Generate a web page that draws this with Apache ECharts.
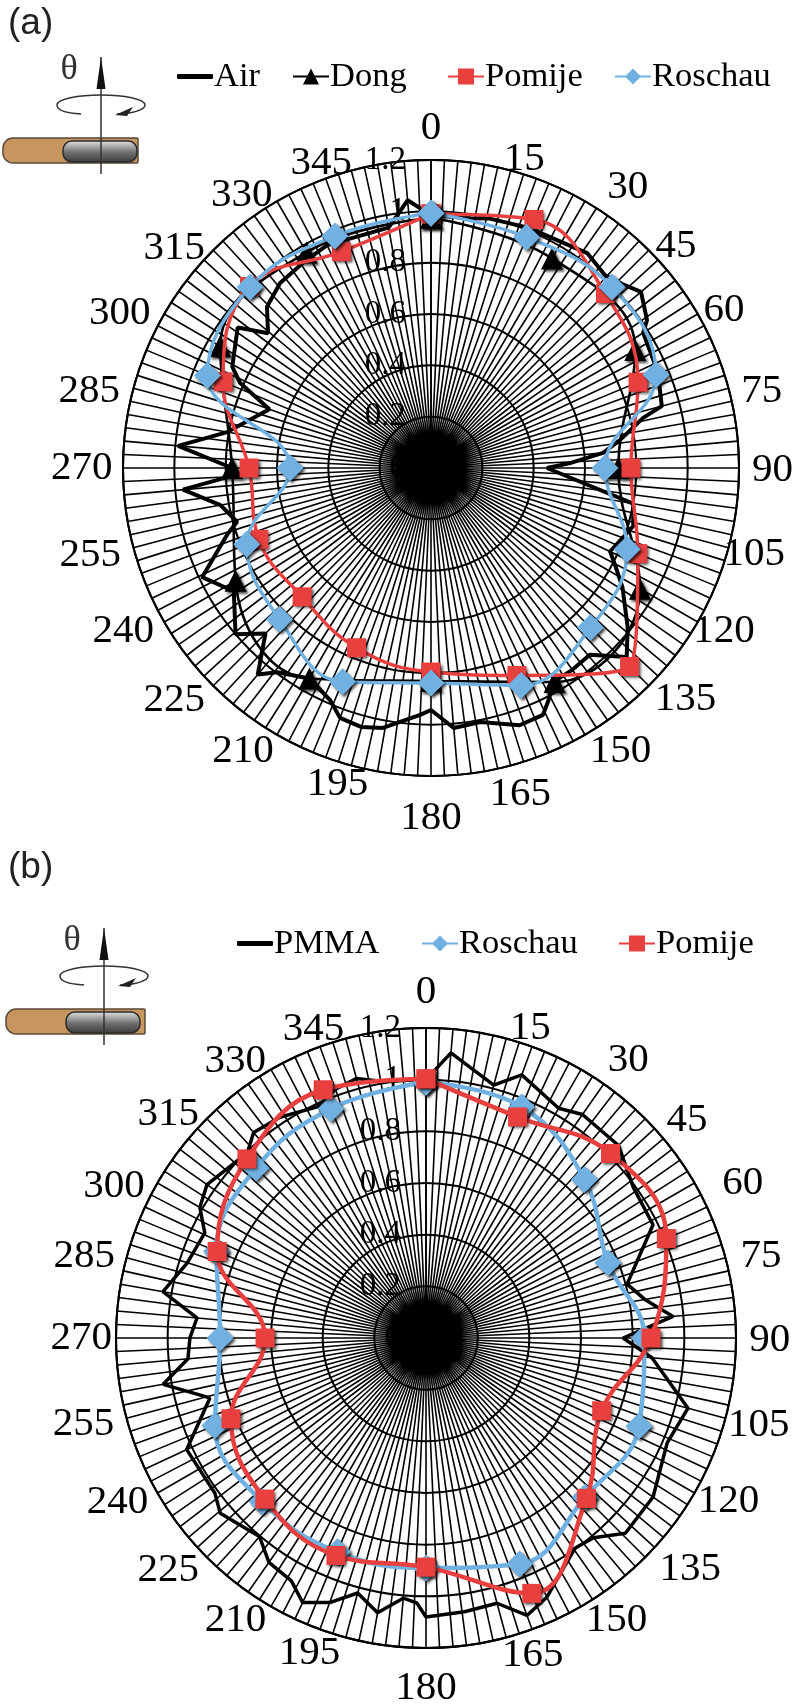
<!DOCTYPE html>
<html><head><meta charset="utf-8">
<style>html,body{margin:0;padding:0;background:#fff}#c{width:800px;height:1706px}</style>
<script src="https://cdn.jsdelivr.net/npm/echarts@6/dist/echarts.min.js"></script></head>
<body><div id="c"></div>
<script>
const angles16=[0,22.5,45,67.5,90,112.5,135,157.5,180,202.5,225,247.5,270,292.5,315,337.5];
const angles12=[0,30,60,90,120,150,180,210,240,270,300,330];
const tickLabels=['0','15','30','45','60','75','90','105','120','135','150','165','180','195','210','225','240','255','270','285','300','315','330','345'];

// panel (a)
const aPomije=[0.99,1.048,0.961,0.873,0.779,0.872,1.094,0.875,0.795,0.758,0.71,0.726,0.709,0.877,1.0,0.912];
const aRoschau=[0.993,0.973,0.997,0.949,0.678,0.827,0.879,0.917,0.838,0.901,0.834,0.777,0.549,0.943,0.997,0.978];
const aDong=[0.975,0.943,0.919,0.73,0.94,0.963,0.83,0.947,0.879,0.775,0.948,0.97];
const aAirAngles=[0,9,13,22,36,42,46,50,55.6,57.5,67,75,76.7,81.6,85,88,90,96.7,100,106,115,118,122,129,134,139.6,145,150,153.5,155.6,161,169,175,180,182.5,190.5,195,200,203.5,210,217,220,225,229.6,238,244.5,252,254.5,260,265,267.5,270,275,280,290,294,297,306,309.6,314.5,320.8,328,335,350,355];
const aAirValues=[0.985,0.985,0.998,1.01,1.035,1.012,1.033,1.068,1.02,0.98,0.96,0.931,0.849,0.744,0.673,0.542,0.452,0.635,0.8,0.82,0.77,0.814,0.88,0.986,1.06,0.955,0.96,0.96,1.02,1.056,1.06,1.008,1.017,0.943,0.963,1.03,1.045,1.036,0.986,0.947,0.996,1.05,0.912,1.0,0.906,0.988,0.834,0.784,0.833,0.97,0.79,0.775,0.989,0.806,0.67,0.814,0.869,0.931,0.824,0.896,0.93,0.942,0.958,0.951,1.047];
const aLabelRadius=[1.323,1.258,1.337,1.288,1.296,1.323,1.331,1.304,1.306,1.341,1.327,1.319,1.365,1.283,1.324,1.348,1.358,1.37,1.361,1.364,1.354,1.317,1.292,1.262];
const aLabelAngle=[0,16.8,35,47.8,61.7,77,90.4,105,119.1,132.3,146.2,164.7,180,196.5,213.6,227.9,242,255.7,270,282.6,296.4,310.6,325.2,340.2];

// panel (b)
const bPomije=[1.003,0.926,1.01,1.007,0.871,0.736,0.878,1.07,0.887,0.911,0.882,0.817,0.623,0.875,0.98,1.04];
const bRoschau=[0.99,0.968,0.868,0.762,0.845,0.892,0.871,0.947,0.89,0.896,0.896,0.884,0.797,0.878,0.93,0.961];
const bPmmaAngles=[0,5,15,20,30,35,45,54,63.5,75,80,85,90,95,105,113.5,125,134.4,140,144.6,155,160,165,172,180,182,185,190,195,200,205,209,215,220,229.6,233.7,245,254.5,260,265,270,275,280,287.4,295.4,300,305,316,320,326.5,335,340,345,350];
const bPmmaValues=[1.0,1.108,1.013,1.084,1.027,1.056,1.054,0.992,0.982,0.806,0.86,0.96,0.763,0.878,1.05,1.018,1.073,1.08,1.009,0.997,1.107,1.143,1.063,1.07,1.08,1.026,1.011,1.08,1.022,1.09,1.13,1.075,1.06,1.003,1.046,1.014,1.022,0.868,1.033,0.925,0.914,0.89,1.034,0.969,0.948,1.011,1.035,0.996,1.038,1.025,0.988,1.025,1.04,1.009];
const bLabelRadius=[1.339,1.266,1.329,1.315,1.364,1.335,1.331,1.332,1.33,1.36,1.319,1.297,1.356,1.3,1.319,1.342,1.352,1.368,1.335,1.36,1.344,1.32,1.3,1.272];
const bLabelAngle=[0,18.6,36.1,50.2,64,76.3,90.4,104.7,118.3,131.2,146,161.4,180,200.3,214,228,242,255.8,270,283.4,296,310.9,325.4,340];

const RED='#E8403F',BLUE='#70B1E2',BLACK='#000';
const SERIF='"Liberation Serif","Times New Roman",serif';
const ring=(as,vs)=>as.map((a,i)=>[vs[i],a]).concat([[vs[0],360]]);
const shadow={shadowBlur:3,shadowColor:'rgba(0,0,0,0.75)',shadowOffsetX:2,shadowOffsetY:2};

function lineSeries(name,polarIndex,as,vs,o){
  return {type:'line',name,coordinateSystem:'polar',polarIndex,data:ring(as,vs),
    smooth:o.smooth||false,symbol:o.symbol||'none',symbolSize:o.size||0,showSymbol:!!o.symbol,
    lineStyle:{color:o.color,width:o.width},itemStyle:Object.assign({color:o.color},o.symbol?shadow:{}),
    emphasis:{disabled:true},animation:false,silent:true,z:o.z};
}
function tickLabelSeries(polarIndex,rs,as){
  return {type:'scatter',name:'angle labels',coordinateSystem:'polar',polarIndex,clip:false,silent:true,
    symbol:'circle',symbolSize:1,itemStyle:{color:'rgba(0,0,0,0)',opacity:1},z:8,animation:false,
    data:as.map((a,i)=>({value:[rs[i],a],name:tickLabels[i]})),
    label:{show:true,position:'inside',align:'center',verticalAlign:'middle',formatter:p=>p.name,
      fontFamily:SERIF,fontSize:41,color:'#000',opacity:1}};
}
function legendAt(name,left,top,plain){
  return Object.assign({show:true,data:[name],left,top,itemWidth:36,itemHeight:20,padding:0,selectedMode:false,
    itemGap:0,textStyle:{fontFamily:SERIF,fontSize:34.5,color:'#000',padding:[0,0,0,-4]},
    itemStyle:{shadowBlur:0,shadowOffsetX:0,shadowOffsetY:0}},plain?{icon:'roundRect',itemHeight:5}:{});
}
const angleAxis=i=>({polarIndex:i,type:'value',min:0,max:360,interval:2.5,startAngle:90,clockwise:true,
  axisLine:{show:true,lineStyle:{color:BLACK,width:2}},axisTick:{show:false},
  splitLine:{show:true,lineStyle:{color:BLACK,width:1.6}},
  axisLabel:{show:false}});
const radiusAxis=i=>({polarIndex:i,type:'value',min:0,max:1.2,interval:0.2,
  axisLine:{show:true,lineStyle:{color:BLACK,width:1.6}},axisTick:{show:false},
  splitLine:{show:true,lineStyle:{color:BLACK,width:2}},
  axisLabel:{show:true,margin:25,padding:[12,0,0,0],fontFamily:SERIF,fontSize:33,color:'#000'}});

function rodGraphic(x,y,w){
  const bez=(a,b,c,d,e,f,g,h)=>({type:'bezierCurve',shape:{x1:a,y1:b,cpx1:c,cpy1:d,cpx2:e,cpy2:f,x2:g,y2:h},style:{fill:null,stroke:'#333',lineWidth:1.5}});
  return {type:'group',x,y,silent:true,children:[
    {type:'rect',shape:{x:0,y:0,width:w,height:25,r:[10,1,1,10]},style:{fill:'#C7965E',stroke:'#5B4A38',lineWidth:1.5}},
    {type:'rect',shape:{x:60,y:3,width:74,height:21,r:9},style:{stroke:'#2b2b2b',lineWidth:1.5,
      fill:{type:'linear',x:0,y:0,x2:0,y2:1,colorStops:[{offset:0,color:'#e6e6e6'},{offset:0.55,color:'#6d6d6d'},{offset:1,color:'#3a3a3a'}]}}},
    {type:'line',shape:{x1:98,y1:-81,x2:98,y2:36},style:{stroke:'#333',lineWidth:1.5}},
    {type:'polygon',shape:{points:[[98,-81],[93.5,-49],[102.5,-49]]},style:{fill:'#111'}},
    bez(78,-24,60,-25,54,-29,54,-33),bez(54,-33,54,-39,75,-43,98,-43),bez(98,-43,121,-43,142,-39,142,-33),bez(142,-33,142,-28,128,-24,114,-24),
    {type:'polygon',shape:{points:[[130,-31],[112,-23],[124,-22]]},style:{fill:'#222'}},
    {type:'text',x:66,y:-68,style:{text:'θ',fontFamily:SERIF,fontSize:36,fill:'#333',align:'center',verticalAlign:'middle'}}
  ]};
}

const option={
  backgroundColor:'#fff',animation:false,
  polar:[{center:[431,468],radius:308},{center:[426,1338],radius:310}],
  angleAxis:[angleAxis(0),angleAxis(1)],
  radiusAxis:[radiusAxis(0),radiusAxis(1)],
  legend:[
    legendAt('Air',177,59,true),legendAt('Dong',292,59),legendAt('Pomije',447,59),legendAt('Roschau',614,59),
    legendAt('PMMA',237,926,true),legendAt('Roschau',421,926),legendAt('Pomije',618,926)],
  graphic:[
    {type:'text',x:8,y:5,silent:true,style:{text:'(a)',fontFamily:'"Liberation Sans",sans-serif',fontSize:37,fill:'#222'}},
    {type:'text',x:8,y:849,silent:true,style:{text:'(b)',fontFamily:'"Liberation Sans",sans-serif',fontSize:37,fill:'#222'}},
    rodGraphic(3,138,135),rodGraphic(6,1009,139)
  ],
  series:[
    lineSeries('Air',0,aAirAngles,aAirValues,{color:BLACK,width:4,z:3}),
    lineSeries('Dong',0,angles12,aDong,{color:BLACK,width:2.6,smooth:0.42,symbol:'triangle',size:22,z:4}),
    lineSeries('Pomije',0,angles16,aPomije,{color:RED,width:3.5,smooth:0.42,symbol:'rect',size:19,z:5}),
    lineSeries('Roschau',0,angles16,aRoschau,{color:BLUE,width:3.5,smooth:0.42,symbol:'diamond',size:27,z:6}),
    tickLabelSeries(0,aLabelRadius,aLabelAngle),
    lineSeries('PMMA',1,bPmmaAngles,bPmmaValues,{color:BLACK,width:3.5,z:3}),
    lineSeries('Roschau',1,angles16,bRoschau,{color:BLUE,width:4.5,smooth:0.42,symbol:'diamond',size:27,z:5}),
    lineSeries('Pomije',1,angles16,bPomije,{color:RED,width:4.5,smooth:0.42,symbol:'rect',size:19,z:6}),
    tickLabelSeries(1,bLabelRadius,bLabelAngle)
  ]
};
const chart=echarts.init(document.getElementById('c'),null,{width:800,height:1706,renderer:'canvas'});
chart.setOption(option);
</script></body></html>
